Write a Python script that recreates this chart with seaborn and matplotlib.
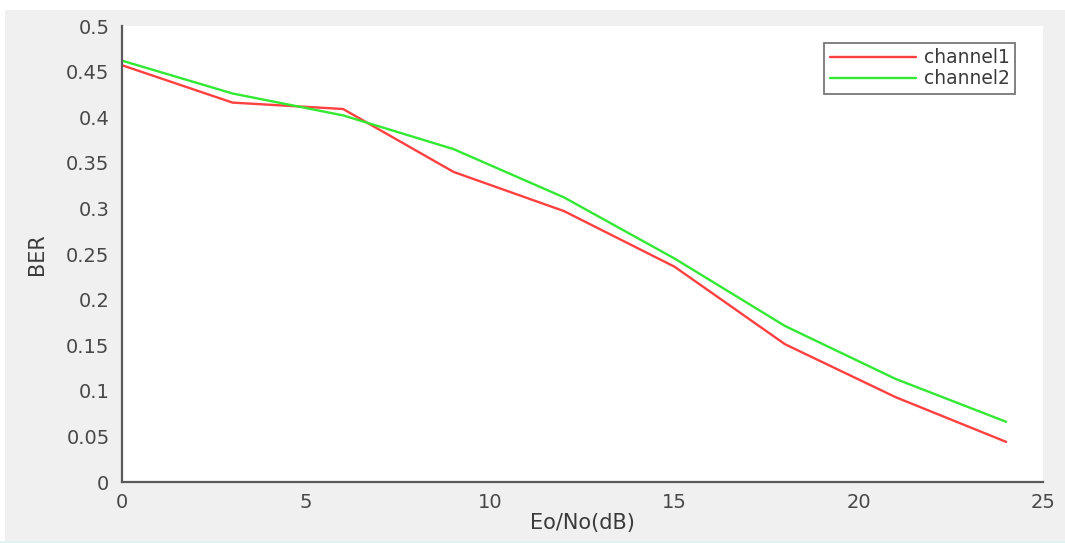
import numpy as np
import pandas as pd
import matplotlib
matplotlib.use("Agg")
import matplotlib.pyplot as plt
from matplotlib.patches import Rectangle
import seaborn as sns

# Eb/No sweep and measured bit error rates
snr_db = [0, 3, 6, 9, 12, 15, 18, 21, 24]
ber_channel1 = [0.457, 0.416, 0.409, 0.340, 0.297, 0.236, 0.151, 0.093, 0.044]
ber_channel2 = [0.462, 0.426, 0.402, 0.365, 0.312, 0.245, 0.171, 0.113, 0.066]
series_names = ["channel1", "channel2"]
x_ticks = [0, 5, 10, 15, 20, 25]
y_ticks = [0, 0.05, 0.1, 0.15, 0.2, 0.25, 0.3, 0.35, 0.4, 0.45, 0.5]
y_tick_labels = ["0", "0.05", "0.1", "0.15", "0.2", "0.25", "0.3", "0.35", "0.4", "0.45", "0.5"]

df = pd.DataFrame({
    "snr": snr_db * 2,
    "ber": ber_channel1 + ber_channel2,
    "channel": [series_names[0]] * len(snr_db) + [series_names[1]] * len(snr_db),
})

sns.set_style("white")
plt.rcParams["font.family"] = ["DejaVu Sans"]

fig = plt.figure(figsize=(10.65, 5.43), dpi=100)
fig.patch.set_facecolor("white")
# grey window background with a thin white margin
fig.patches.append(Rectangle((5 / 1065, 2 / 543), 1 - 5 / 1065, 1 - 12 / 543,
                             transform=fig.transFigure, facecolor="#f0f0f0",
                             edgecolor="none", zorder=-10))
fig.patches.append(Rectangle((0, 0), 1, 2 / 543, transform=fig.transFigure,
                             facecolor="#dff3f3", edgecolor="none", zorder=-10))

ax = fig.add_axes([122 / 1065, 61 / 543, 921 / 1065, 456 / 543])
ax.set_facecolor("white")

sns.lineplot(data=df, x="snr", y="ber", hue="channel",
             palette={"channel1": "#ff4040", "channel2": "#33e833"},
             linewidth=1.7, ax=ax, legend=True)

ax.set_xlim(0, 25)
ax.set_ylim(0, 0.5)
ax.set_xticks(x_ticks)
ax.set_xticklabels([str(t) for t in x_ticks])
ax.set_yticks(y_ticks)
ax.set_yticklabels(y_tick_labels)

axis_color = "#5a5a5a"
for side in ["top", "right"]:
    ax.spines[side].set_visible(False)
for side in ["left", "bottom"]:
    ax.spines[side].set_color(axis_color)
    ax.spines[side].set_linewidth(1.6)

ax.tick_params(axis="both", direction="in", length=4, width=1.2,
               color=axis_color, labelcolor="#484848", labelsize=14)
ax.tick_params(axis="y", pad=9)
ax.tick_params(axis="x", pad=8)

ax.set_xlabel("Eo/No(dB)", fontsize=15, color="#3a3a3a", labelpad=1)
ax.set_ylabel("BER", fontsize=15, color="#3a3a3a", labelpad=14)

leg = ax.legend(loc="upper right", bbox_to_anchor=(0.97, 0.963), borderaxespad=0,
                fontsize=13.5, handlelength=4.6, frameon=True, fancybox=False,
                borderpad=0.3, labelspacing=0.1, handletextpad=0.4)
leg.get_frame().set_edgecolor("#555555")
leg.get_frame().set_linewidth(1.3)
for t in leg.get_texts():
    t.set_color("#3a3a3a")

fig.savefig("out.png", dpi=100, facecolor=fig.get_facecolor())
